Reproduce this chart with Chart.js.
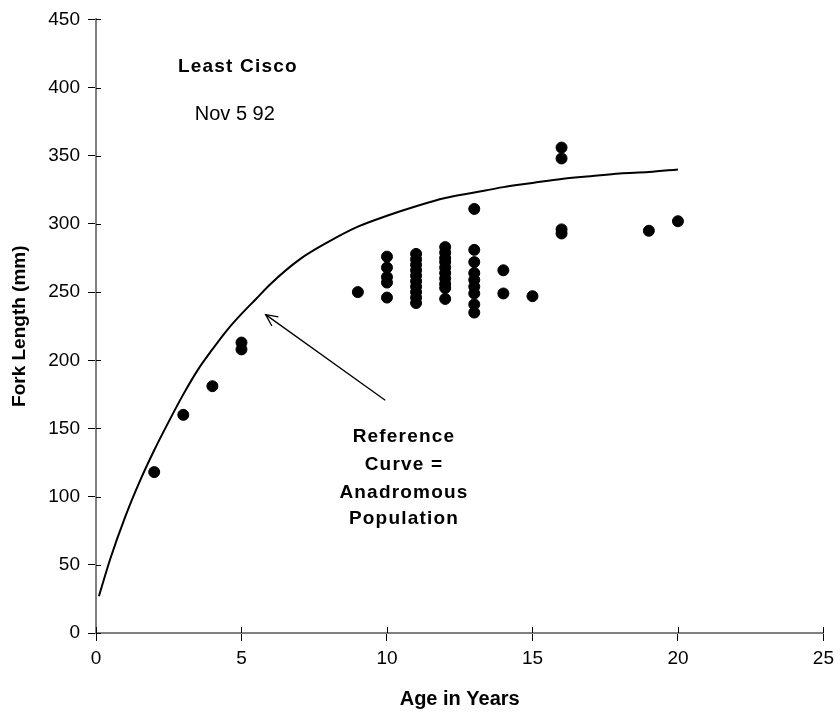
<!DOCTYPE html>
<html>
<head>
<meta charset="utf-8">
<script src="https://cdn.jsdelivr.net/npm/chart.js@4/dist/chart.umd.min.js"></script>
<style>
html,body{margin:0;padding:0;background:#fff;}
#wrap{width:840px;height:717px;}
</style>
</head>
<body>
<div id="wrap"><canvas id="c" width="840" height="717"></canvas></div>
<script>
// Observed fish: age (years) and fork length (mm)
const scatterAges = [
  2, 3, 4, 5, 5, 9,
  10, 10, 10, 10, 10,
  11, 11, 11, 11, 11, 11, 11, 11, 11, 11,
  12, 12, 12, 12, 12, 12, 12, 12, 12, 12,
  13, 13, 13, 13, 13, 13, 13, 13, 13,
  14, 14, 15, 16, 16, 16, 16, 19, 20
];
const scatterLengths = [
  118, 160, 181, 213, 208, 250,
  276, 268, 261, 257, 246,
  278, 274, 270, 266, 262, 258, 254, 250, 246, 242,
  283, 279, 275, 272, 268, 264, 260, 256, 253, 245,
  311, 281, 272, 264, 259, 254, 249, 241, 235,
  266, 249, 247, 356, 348, 296, 293, 295, 302
];
// Reference curve (anadromous population)
const curveAges    = [0.1, 0.5, 1, 1.5, 2, 2.5, 3, 3.5, 4, 4.5, 5, 5.5, 6, 7, 8, 9, 10, 11, 12, 13, 14, 15, 16, 17, 18, 19, 20];
const curveLengths = [27, 55, 85, 111, 134, 155, 175, 193, 208, 222, 234, 245, 256, 274, 287, 298, 306, 313, 319, 323, 327, 330, 333, 335, 337, 338, 340];

const xTickValues = [0, 5, 10, 15, 20, 25];
const yTickValues = [0, 50, 100, 150, 200, 250, 300, 350, 400, 450];

const FONT = "'Liberation Sans', Arial, Helvetica, sans-serif";

const scatterData = scatterAges.map((a, i) => ({x: a, y: scatterLengths[i]}));
const curveData = curveAges.map((a, i) => ({x: a, y: curveLengths[i]}));

const annotationPlugin = {
  id: 'annot',
  afterDraw(chart) {
    const ctx = chart.ctx;
    const xs = chart.scales.x, ys = chart.scales.y;
    const px = v => xs.getPixelForValue(v);
    const py = v => ys.getPixelForValue(v);
    ctx.save();
    ctx.fillStyle = '#000';
    ctx.textAlign = 'center';
    ctx.textBaseline = 'middle';
    ctx.font = 'bold 19px ' + FONT;
    if ('letterSpacing' in ctx) ctx.letterSpacing = '1.2px';
    ctx.fillText('Least Cisco', px(4.84) + 1, py(415));
    ['Reference', 'Curve =', 'Anadromous', 'Population'].forEach((t, i) => {
      ctx.fillText(t, px(10.55) + 1, py([144, 123.6, 103.2, 84][i]));
    });
    if ('letterSpacing' in ctx) ctx.letterSpacing = '0px';
    ctx.font = '20px ' + FONT;
    ctx.fillText('Nov 5 92', px(4.77), py(380.6));

    // arrow
    const x1 = px(9.94), y1 = py(170.7), x2 = px(5.83), y2 = py(233.5);
    ctx.strokeStyle = '#000';
    ctx.lineWidth = 1.3;
    ctx.beginPath();
    ctx.moveTo(x1, y1); ctx.lineTo(x2, y2); ctx.stroke();
    const ang = Math.atan2(y2 - y1, x2 - x1);
    const L = 13, spread = 0.45;
    ctx.beginPath();
    ctx.moveTo(x2 - L * Math.cos(ang - spread), y2 - L * Math.sin(ang - spread));
    ctx.lineTo(x2, y2);
    ctx.lineTo(x2 - L * Math.cos(ang + spread), y2 - L * Math.sin(ang + spread));
    ctx.stroke();

    // inner parts of tick marks (ticks cross the axes)
    ctx.strokeStyle = '#000';
    ctx.lineWidth = 1;
    const area = chart.chartArea;
    xTickValues.forEach(v => {
      const x = Math.round(px(v)) + 0.5;
      ctx.beginPath(); ctx.moveTo(x, area.bottom); ctx.lineTo(x, area.bottom - 6); ctx.stroke();
    });
    yTickValues.forEach(v => {
      const y = Math.round(py(v)) + 0.5;
      ctx.beginPath(); ctx.moveTo(area.left, y); ctx.lineTo(area.left + 5, y); ctx.stroke();
    });
    ctx.restore();
  }
};

new Chart(document.getElementById('c'), {
  type: 'scatter',
  data: {
    datasets: [
      {
        type: 'line',
        label: 'Reference curve',
        data: curveData,
        borderColor: '#000',
        borderWidth: 2,
        pointRadius: 0,
        fill: false,
        cubicInterpolationMode: 'monotone',
        order: 2
      },
      {
        label: 'Least Cisco',
        data: scatterData,
        backgroundColor: '#000',
        borderColor: '#000',
        pointRadius: 5.5,
        pointHoverRadius: 5.5,
        order: 1
      }
    ]
  },
  options: {
    responsive: false,
    animation: false,
    events: [],
    layout: { padding: { left: 0, right: 13, top: 17, bottom: 0 } },
    plugins: {
      legend: { display: false },
      tooltip: { enabled: false }
    },
    scales: {
      x: {
        type: 'linear',
        min: 0, max: 25,
        afterBuildTicks: s => { s.ticks = xTickValues.map(v => ({value: v})); },
        border: { color: '#808080', width: 2 },
        grid: { display: true, drawOnChartArea: false, drawTicks: true, tickLength: 8, color: '#000' },
        ticks: { color: '#000', font: { family: FONT, size: 19 }, padding: 6, maxRotation: 0 },
        title: { display: true, text: 'Age in Years', color: '#000', font: { family: FONT, size: 20, weight: 'bold' }, padding: { top: 10, bottom: 6 } },
        afterFit: s => { s.height = 84; }
      },
      y: {
        type: 'linear',
        min: 0, max: 450,
        afterBuildTicks: s => { s.ticks = yTickValues.map(v => ({value: v})); },
        border: { color: '#808080', width: 2 },
        grid: { display: true, drawOnChartArea: false, drawTicks: true, tickLength: 8, color: '#000' },
        ticks: { color: '#000', font: { family: FONT, size: 19 }, padding: 8 },
        title: { display: true, text: 'Fork Length (mm)', color: '#000', font: { family: FONT, size: 19, weight: 'bold' }, padding: { top: 8, bottom: 4 } },
        afterFit: s => { s.width = 96; }
      }
    }
  },
  plugins: [annotationPlugin]
});
</script>
</body>
</html>
